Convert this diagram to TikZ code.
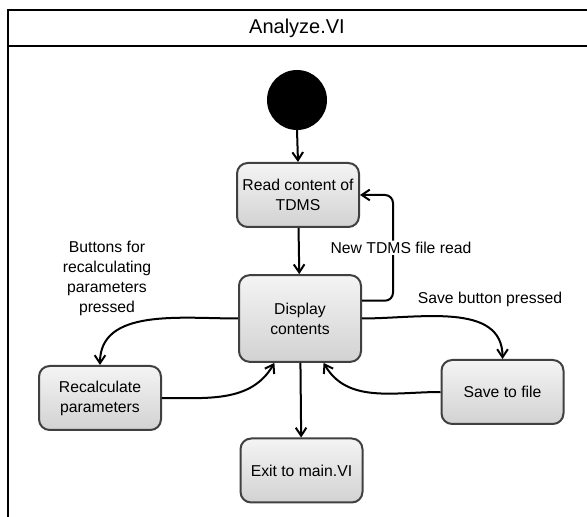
\documentclass[tikz,border=0pt]{standalone}
\usepackage{fontspec}
\setmainfont{Liberation Sans}
\usetikzlibrary{arrows.meta}

\definecolor{boxline}{HTML}{404040}
\definecolor{boxtop}{HTML}{F4F4F4}
\definecolor{boxbottom}{HTML}{D2D2D2}

\tikzset{
	state/.style = {draw = boxline, line width = 1.5pt, rounded corners = 8pt,
		top color = boxtop, bottom color = boxbottom,
		minimum width = 91.5pt, minimum height = 48pt, inner sep = 2pt,
		align = center, font = \fontsize{11.8}{15}\selectfont},
	flow/.style = {->, line width = 1.5pt},
	note/.style = {align = center, inner sep = 1pt, font = \fontsize{11.8}{15}\selectfont}
}

\begin{document}
\begin{tikzpicture}[> = {Straight Barb[length = 6pt, width = 8pt]}, x = 0.75pt, y = -0.75pt]

% Page

\clip (0, 0) rectangle (587, 517);
\fill [white] (0, 0) rectangle (587, 517);

% Frame with title

\draw [line width = 1.5pt] (8, 530) -- (8, 10) -- (600, 10);
\draw [line width = 1.5pt] (8, 46) -- (600, 46);
\node [font = \fontsize{15}{18}\selectfont] (title) at (297, 28) {Analyze.VI};

% States

\fill (297, 100) circle [radius = 22.5pt] coordinate (start);
\node [state] (read) at (298, 195) {Read content of\\TDMS};
\node [state, minimum height = 65pt] (disp) at (300, 318.5) {Display\\contents};
\node [state] (recalc) at (100, 398) {Recalculate\\parameters};
\node [state] (save) at (502.5, 392) {Save to file};
\node [state] (exit) at (301.5, 470.5) {Exit to main.VI};

% Straight flow

\draw [flow] (297, 130) -- (read.north);
\draw [flow] (read) -- (disp);
\draw [flow] (disp) -- (exit);

% Reading a new file

\draw [flow, rounded corners = 6pt] (disp.16) -- ++(31, 0)
	|- node [pos = 0.25, fill = white, note, xshift = 6pt] (newlbl) {New TDMS file read} (read.east);

% Recalculating

\draw [flow] (disp.west) to [out = 180, in = 90] (recalc.north);
\draw [flow] (recalc.east) to [out = 0, in = -120] (disp.-120);
\node [note] (btnlbl) at (107, 278) {Buttons for\\recalculating\\parameters\\pressed};

% Saving

\draw [flow] (disp.east) to [out = 0, in = 90] (save.north);
\draw [flow] (save.west) to [out = 180, in = -60] (disp.-62);
\node [note] (savelbl) at (490, 299) {Save button pressed};

\end{tikzpicture}
\end{document}
